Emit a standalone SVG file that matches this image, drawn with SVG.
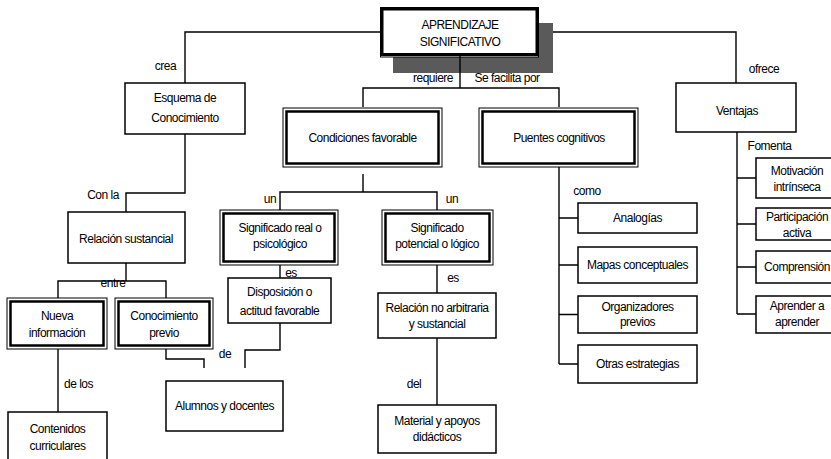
<svg xmlns="http://www.w3.org/2000/svg" width="831" height="459" viewBox="0 0 831 459">
<style>
  text { font-family: "Liberation Sans", Arial, sans-serif; font-size: 12px; letter-spacing: -0.5px; fill: #000; text-anchor: middle; }
  .box { fill: #fff; stroke: #000; stroke-width: 1.5; }
  .outer { fill: #fff; stroke: #000; stroke-width: 1; }
  .inner { fill: none; stroke: #000; stroke-width: 2.5; }
  .conn { fill: none; stroke: #000; stroke-width: 1.4; }
  .lbl { text-anchor: middle; }
</style>
<rect width="831" height="459" fill="#fff"/>

<g id="connectors">
  <path class="conn" d="M381,32 H185 V83"/>
  <path class="conn" d="M538,32 H736 V83"/>
  <path class="conn" d="M460,55 V88"/>
  <path class="conn" d="M363,107 V88 H559 V107"/>
  <path class="conn" d="M185,134 V193 H126 V212"/>
  <path class="conn" d="M126,263 V281"/>
  <path class="conn" d="M58,298 V281 H166 V298"/>
  <path class="conn" d="M58,349 V412"/>
  <path class="conn" d="M166,349 V359 H204 V368"/>
  <path class="conn" d="M280,323 V350 H245 V368"/>
  <path class="conn" d="M363,174 V192"/>
  <path class="conn" d="M280,210 V192 H437 V210"/>
  <path class="conn" d="M280,265 V278"/>
  <path class="conn" d="M437,265 V293"/>
  <path class="conn" d="M437,338 V405"/>
  <path class="conn" d="M559,166 V364 M559,218 H578 M559,265 H578 M559,314.5 H578 M559,364 H578"/>
  <path class="conn" d="M737,132 V314 M737,178 H756 M737,224 H756 M737,267 H756 M737,314 H756"/>
  <text x="165.5" y="70">crea</text>
  <text x="764" y="73">ofrece</text>
  <text x="433" y="82">requiere</text>
  <text x="507" y="82">Se facilita por</text>
  <text x="103" y="199">Con la</text>
  <text x="270" y="203">un</text>
  <text x="452" y="203">un</text>
  <text x="587" y="195">como</text>
  <text x="769.5" y="150">Fomenta</text>
  <text x="113" y="287">entre</text>
  <text x="291" y="277">es</text>
  <text x="453" y="282">es</text>
  <text x="225" y="358">de</text>
  <text x="78.5" y="388">de los</text>
  <text x="414" y="388">del</text>
</g>

<g id="n-aprendizaje">
  <rect x="393" y="23" width="160" height="50" fill="#5a5a5a"/>
  <rect x="380.5" y="7.5" width="158" height="49.5" class="outer"/>
  <rect x="382" y="9" width="155" height="45.5" fill="#fff" stroke="#000" stroke-width="3"/>
  <path class="conn" d="M460,55 V73"/>
  <text x="460" y="29">APRENDIZAJE</text>
  <text x="460" y="46">SIGNIFICATIVO</text>
</g>

<g id="n-esquema">
  <rect x="125" y="83" width="120" height="51" class="box"/>
  <text x="185" y="102">Esquema de</text>
  <text x="185" y="122">Conocimiento</text>
</g>

<g id="n-condiciones">
  <rect x="283" y="108" width="159" height="59" class="outer"/>
  <rect x="286.5" y="111.5" width="152" height="52" class="inner"/>
  <text x="362.5" y="142">Condiciones favorable</text>
</g>

<g id="n-puentes">
  <rect x="479" y="108" width="159" height="59" class="outer"/>
  <rect x="482.5" y="111.5" width="152" height="52" class="inner"/>
  <text x="559" y="142">Puentes cognitivos</text>
</g>

<g id="n-ventajas">
  <rect x="676" y="83" width="120" height="49" class="box"/>
  <text x="737" y="115">Ventajas</text>
</g>

<g id="n-relacion-sustancial">
  <rect x="68" y="212" width="117" height="51" class="box"/>
  <text x="126" y="243">Relación sustancial</text>
</g>

<g id="n-nueva">
  <rect x="7" y="298" width="100" height="51" class="outer"/>
  <rect x="10.5" y="301.5" width="93" height="44" class="inner"/>
  <text x="57" y="320">Nueva</text>
  <text x="57" y="337">información</text>
</g>

<g id="n-previo">
  <rect x="115" y="298" width="98" height="51" class="outer"/>
  <rect x="118.5" y="301.5" width="91" height="44" class="inner"/>
  <text x="164" y="320">Conocimiento</text>
  <text x="164" y="337">previo</text>
</g>

<g id="n-contenidos">
  <rect x="8" y="412" width="99" height="60" class="box"/>
  <text x="57.5" y="433">Contenidos</text>
  <text x="57.5" y="450">curriculares</text>
</g>

<g id="n-sig-real">
  <rect x="220" y="210" width="118" height="55" class="outer"/>
  <rect x="223.5" y="213.5" width="111" height="48" class="inner"/>
  <text x="280" y="232">Significado real o</text>
  <text x="280" y="248">psicológico</text>
</g>

<g id="n-sig-potencial">
  <rect x="382" y="210" width="111" height="55" class="outer"/>
  <rect x="385.5" y="213.5" width="104" height="48" class="inner"/>
  <text x="437" y="232">Significado</text>
  <text x="437" y="248">potencial o lógico</text>
</g>

<g id="n-disposicion">
  <rect x="228" y="278" width="103" height="45" class="box"/>
  <text x="279.5" y="296">Disposición o</text>
  <text x="279.5" y="315">actitud favorable</text>
</g>

<g id="n-alumnos">
  <rect x="166" y="381" width="117" height="50" class="box"/>
  <text x="224.5" y="410">Alumnos y docentes</text>
</g>

<g id="n-relacion-no-arbitraria">
  <rect x="378" y="293" width="118" height="45" class="box"/>
  <text x="437" y="312">Relación no arbitraria</text>
  <text x="437" y="328">y sustancial</text>
</g>

<g id="n-material">
  <rect x="378" y="405" width="118" height="48" class="box"/>
  <text x="437" y="425">Material y apoyos</text>
  <text x="437" y="441">didácticos</text>
</g>

<g id="n-analogias">
  <rect x="578" y="203" width="119" height="30" class="box"/>
  <text x="637.5" y="222">Analogías</text>
</g>

<g id="n-mapas">
  <rect x="578" y="247" width="119" height="36" class="box"/>
  <text x="637.5" y="269">Mapas conceptuales</text>
</g>

<g id="n-organizadores">
  <rect x="578" y="296" width="119" height="37" class="box"/>
  <text x="637.5" y="311">Organizadores</text>
  <text x="637.5" y="326">previos</text>
</g>

<g id="n-otras">
  <rect x="578" y="345" width="119" height="38" class="box"/>
  <text x="637.5" y="368">Otras estrategias</text>
</g>

<g id="n-motivacion">
  <rect x="756" y="158" width="82" height="40" class="box"/>
  <text x="797" y="175">Motivación</text>
  <text x="797" y="191">intrínseca</text>
</g>

<g id="n-participacion">
  <rect x="756" y="208" width="82" height="32" class="box"/>
  <text x="797" y="221">Participación</text>
  <text x="797" y="237">activa</text>
</g>

<g id="n-comprension">
  <rect x="756" y="251" width="82" height="32" class="box"/>
  <text x="797" y="271">Comprensión</text>
</g>

<g id="n-aprender">
  <rect x="756" y="296" width="82" height="37" class="box"/>
  <text x="797" y="310">Aprender a</text>
  <text x="797" y="326">aprender</text>
</g>
</svg>
